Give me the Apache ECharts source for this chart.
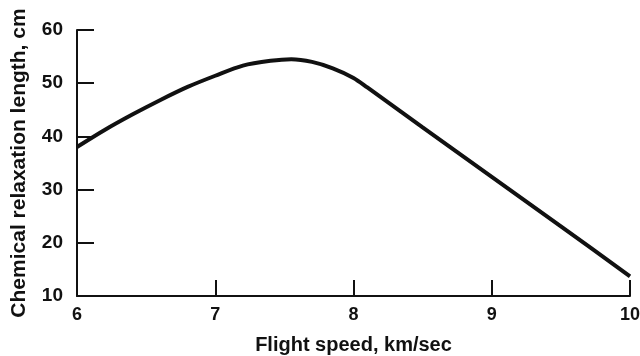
<!DOCTYPE html>
<html>
<head>
<meta charset="utf-8">
<script src="https://cdn.jsdelivr.net/npm/echarts@6/dist/echarts.min.js"></script>
<style>
  html, body { margin: 0; padding: 0; background: #fff; }
  #chart { width: 640px; height: 356px; }
</style>
</head>
<body>
<div id="chart"></div>
<script>
// values
const speeds = [6.0, 6.2, 6.4, 6.6, 6.8, 7.0, 7.2, 7.4, 7.55, 7.7, 7.85, 8.0, 8.1, 8.5, 9.0, 9.5, 10.0];
const lengths = [38.0, 41.2, 44.1, 46.8, 49.3, 51.4, 53.3, 54.2, 54.5, 54.0, 52.8, 51.0, 49.2, 41.7, 32.4, 23.1, 13.7];
const xTicks = [6, 7, 8, 9, 10];
const yTicks = [10, 20, 30, 40, 50, 60];

const ink = '#111';
const font = '"Liberation Sans", Arial, sans-serif';

const chart = echarts.init(document.getElementById('chart'));

chart.setOption({
  backgroundColor: '#fff',
  animation: false,
  // keep the plot box fixed; the axis name may sit near the bottom edge
  grid: { left: 77, right: 10, top: 30, bottom: 60, outerBoundsMode: 'none' },
  xAxis: {
    type: 'value',
    min: xTicks[0],
    max: xTicks[xTicks.length - 1],
    interval: 1,
    name: 'Flight speed, km/sec',
    nameLocation: 'middle',
    nameGap: 39,
    nameTextStyle: { color: ink, fontFamily: font, fontWeight: 'bold', fontSize: 20 },
    axisLine: { lineStyle: { color: ink, width: 2 } },
    axisTick: { inside: true, length: 16, lineStyle: { color: ink, width: 2 } },
    axisLabel: { color: ink, fontFamily: font, fontWeight: 'bold', fontSize: 18, margin: 10 },
    splitLine: { show: false }
  },
  yAxis: {
    type: 'value',
    min: yTicks[0],
    max: yTicks[yTicks.length - 1],
    interval: 10,
    name: 'Chemical relaxation length, cm',
    nameLocation: 'middle',
    nameGap: 47,
    nameTextStyle: { color: ink, fontFamily: font, fontWeight: 'bold', fontSize: 21 },
    axisLine: { show: true, lineStyle: { color: ink, width: 2 } },
    axisTick: { show: true, inside: true, length: 17, lineStyle: { color: ink, width: 2 } },
    axisLabel: { color: ink, fontFamily: font, fontWeight: 'bold', fontSize: 19, margin: 14 },
    splitLine: { show: false }
  },
  series: [{
    type: 'line',
    data: speeds.map((s, i) => [s, lengths[i]]),
    smooth: 0.3,
    showSymbol: false,
    lineStyle: { color: ink, width: 4 }
  }]
});
</script>
</body>
</html>
